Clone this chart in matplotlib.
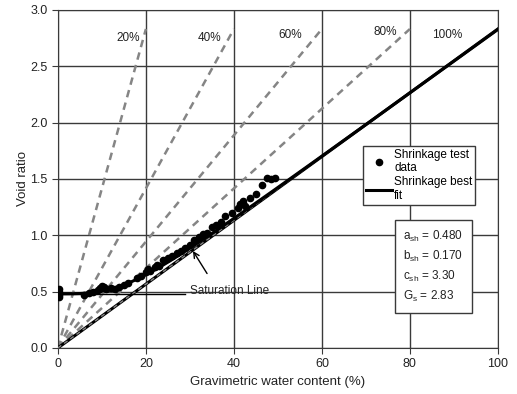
import numpy as np
import matplotlib.pyplot as plt
from matplotlib.patches import Rectangle

plt.rcParams['font.family'] = ['Liberation Sans', 'DejaVu Sans']

# shrinkage test data: gravimetric water content (%) and void ratio
w_test = [0.2, 0.2, 0.2, 0.2,
          6, 7, 8, 9, 9.5, 10, 10.5, 11, 12, 13, 14, 15, 16,
          18, 19, 20, 20.5, 21, 22, 22.5, 23, 24, 25, 26, 27, 28, 29, 30,
          31, 32, 33, 34, 35, 36, 37, 38, 39.5, 41, 41.5, 42, 42.5, 43.6,
          45, 46.3, 47.5, 48.5, 49.3]
e_test = [0.45, 0.47, 0.50, 0.52,
          0.47, 0.49, 0.50, 0.51, 0.53, 0.55, 0.54, 0.52, 0.53, 0.52, 0.54, 0.56, 0.58,
          0.62, 0.64, 0.67, 0.70, 0.68, 0.72, 0.74, 0.73, 0.78, 0.80, 0.82, 0.84, 0.86, 0.89, 0.91,
          0.96, 0.98, 1.01, 1.02, 1.07, 1.09, 1.12, 1.17, 1.20, 1.24, 1.28, 1.30, 1.26, 1.33,
          1.37, 1.45, 1.51, 1.50, 1.51]

# fitted shrinkage parameters
a_sh = 0.480
b_sh = 0.170
c_sh = 3.30
Gs = 2.83

saturations = [20, 40, 60, 80]

fig = plt.figure(figsize=(5.17, 3.94), dpi=100)
ax = fig.add_axes([0.112, 0.117, 0.851, 0.858])

gridc = '#3a3a3a'
txtc = '#222222'
ax.set_xlim(0, 100)
ax.set_ylim(0, 3.0)
ax.set_xticks(np.arange(0, 101, 20))
ax.set_yticks(np.arange(0, 3.01, 0.5))
ax.set_yticklabels(['%.1f' % v for v in np.arange(0, 3.01, 0.5)])
ax.grid(True, color=gridc, linewidth=1.0)
ax.set_axisbelow(True)
for s in ax.spines.values():
    s.set_color(gridc)
ax.tick_params(direction='out', length=4, color=gridc, labelsize=9, labelcolor=txtc)
ax.set_xlabel('Gravimetric water content (%)', fontsize=9.5, color=txtc)
ax.set_ylabel('Void ratio', fontsize=9.5, color=txtc, labelpad=1)

# lines of constant degree of saturation: e = w * Gs / S
for S in saturations:
    w = np.array([0, S])
    ax.plot(w, w * Gs / S, ls=(0, (3, 2.2)), color='#858585', lw=1.8, zorder=2)

# saturation line (S = 100 %)
w_sat = np.array([0, 100])
ax.plot(w_sat, w_sat * Gs / 100, color='black', lw=2.2, zorder=3)
ax.plot(w_sat, w_sat * Gs / 100, ls=(0, (3, 2.5)), color='#858585', lw=1.0, zorder=3)

# best fit shrinkage curve
w_fit = np.linspace(0, 100, 400)
e_fit = a_sh * ((w_fit / 100) ** c_sh / b_sh ** c_sh + 1) ** (1 / c_sh)
ax.plot(w_fit, e_fit, color='black', lw=2.2, zorder=4, label='Shrinkage best\nfit')
ax.plot([0, 29], [a_sh, a_sh], color='black', lw=1.0, zorder=4)

ax.plot(w_test, e_test, 'o', color='black', ms=4.5, zorder=5, label='Shrinkage test\ndata')

for S, (tx, ty) in zip(saturations + [100],
                       [(15.9, 2.75), (34.5, 2.75), (52.7, 2.78), (74.3, 2.8), (88.4, 2.78)]):
    ax.text(tx, ty, '%d%%' % S, fontsize=8.5, ha='center', va='center', color=txtc, zorder=6)

ax.text(30, 0.505, 'Saturation Line', fontsize=8.5, ha='left', va='center', color=txtc, zorder=6)
ax.annotate('', xy=(30.7, 0.86), xytext=(33.9, 0.66),
            arrowprops=dict(arrowstyle='->', color='black', lw=1.0, shrinkA=0, shrinkB=0),
            zorder=6)

handles, labels = ax.get_legend_handles_labels()
leg = ax.legend(handles[::-1], labels[::-1], loc='upper left',
                bbox_to_anchor=(0.693, 0.598), fontsize=8.5, frameon=True,
                fancybox=False, edgecolor=gridc, framealpha=1,
                handlelength=2.2, handletextpad=0.2, borderpad=0.25,
                labelspacing=0.15, borderaxespad=0)
leg.get_frame().set_linewidth(1.0)
leg.set_zorder(7)

# parameter box
ax.add_patch(Rectangle((0.766, 0.104), 0.175, 0.275, transform=ax.transAxes,
                       fc='white', ec=gridc, lw=1.0, zorder=7))
param_lines = ['a$_{\\mathregular{sh}}$ = %.3f' % a_sh,
               'b$_{\\mathregular{sh}}$ = %.3f' % b_sh,
               'c$_{\\mathregular{sh}}$ = %.2f' % c_sh,
               'G$_{\\mathregular{s}}$ = %.2f' % Gs]
for txt, ty in zip(param_lines, [0.331, 0.272, 0.210, 0.151]):
    ax.text(0.784, ty, txt, transform=ax.transAxes, fontsize=8.5, ha='left', va='center',
            color=txtc, zorder=8)

fig.savefig('out.png', dpi=100)
